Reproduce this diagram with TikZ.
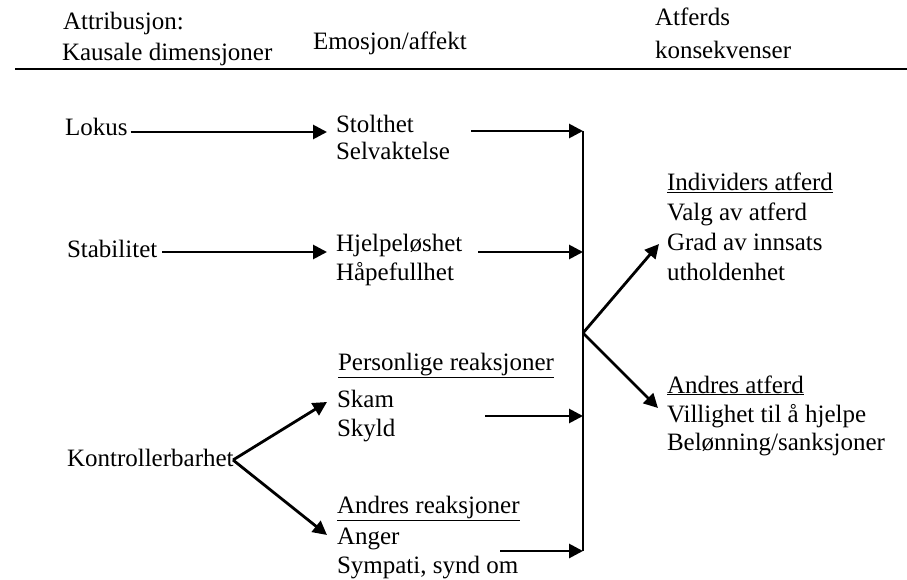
\documentclass[tikz,border=0pt]{standalone}
\usepackage{fontspec}
\setmainfont{Liberation Serif}
\usetikzlibrary{arrows.meta}
\newcommand{\bodyfont}{\fontsize{25}{29}\selectfont}
\tikzset{
  txt/.style={anchor=base west, inner sep=0pt, outer sep=0pt, font=\bodyfont},
  link/.style={line width=2.8pt},
  arr/.style={link, -{Triangle[length=14pt,width=14pt]}},
}
\begin{document}
\begin{tikzpicture}[x=1pt,y=-1pt]
\useasboundingbox (0,0) rectangle (907,580);

% column headings
\node[txt] (attr1) at (63,30) {Attribusjon:};
\node[txt] (attr2) at (62,61) {Kausale dimensjoner};
\node[txt] (emo)   at (313,50) {Emosjon/affekt};
\node[txt] (atf1)  at (655,26) {Atferds};
\node[txt] (atf2)  at (655,59) {konsekvenser};
\coordinate (ruleL) at (15,69);
\coordinate (ruleR) at (907,69);
\draw[link] (ruleL) -- (ruleR);

% causal dimensions
\node[txt] (lokus) at (65,136) {Lokus};
\node[txt] (stab)  at (67,257) {Stabilitet};
\node[txt] (kontr) at (67,466) {Kontrollerbarhet};

% emotions
\node[txt] (stolt) at (336,133) {Stolthet};
\node[txt] (selv)  at (336,160) {Selvaktelse};
\node[txt] (hjelp) at (336,251) {Hjelpeløshet};
\node[txt] (haap)  at (336,280) {Håpefullhet};
\node[txt] (pers)  at (338,370) {\underline{Personlige reaksjoner}};
\node[txt] (skam)  at (337,407) {Skam};
\node[txt] (skyld) at (337,436) {Skyld};
\node[txt] (andr)  at (337,513) {\underline{Andres reaksjoner}};
\node[txt] (anger) at (337,544) {Anger};
\node[txt] (symp)  at (337,573) {Sympati, synd om};

% behavioural consequences
\node[txt] (indiv) at (667,191) {\underline{Individers atferd}};
\node[txt] (valg)  at (667,220) {Valg av atferd};
\node[txt] (grad)  at (667,250) {Grad av innsats};
\node[txt] (uthol) at (667,280) {utholdenhet};
\node[txt] (anda)  at (667,393) {\underline{Andres atferd}};
\node[txt] (villi) at (667,422) {Villighet til å hjelpe};
\node[txt] (belon) at (667,450) {Belønning/sanksjoner};

% collecting bar and branch points
\coordinate (barTop) at (583,131);
\coordinate (barBot) at (583,551);
\coordinate (barMid) at (583,333);
\coordinate (kSplit) at (233,460);
\draw[link] (barTop) -- (barBot);

% dimension -> emotion
\draw[arr] (lokus.base east) ++(3,-4) -- (327,132);
\draw[arr] (stab.base east) ++(5,-5) -- (327,252);
\draw[arr] (kSplit) -- (327,402);
\draw[arr] (kSplit) -- (327,535);

% emotion -> bar
\draw[arr] (471,131) -- (barTop);
\draw[arr] (478,252) -- (barTop |- 0,252);
\draw[arr] (485,416) -- (barTop |- 0,416);
\draw[arr] (500,551) -- (barBot);

% bar -> consequences
\draw[arr] (barMid) -- (659,244);
\draw[arr] (barMid) -- (658,408);
\end{tikzpicture}
\end{document}
